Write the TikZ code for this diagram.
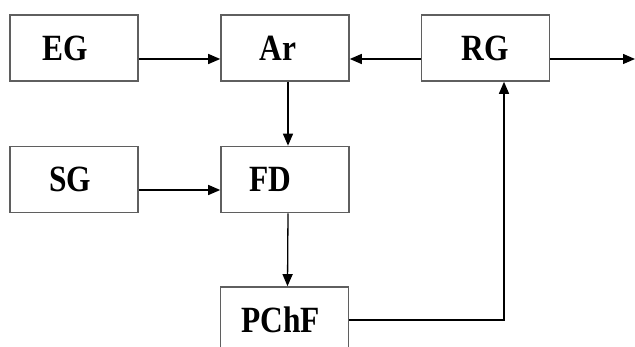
\documentclass[tikz,border=0pt]{standalone}
\usepackage{fontspec}
\setmainfont{Liberation Serif}
\newfontfamily\blkfont[FakeStretch=0.85]{Liberation Serif}
\usepackage{tikz}
\usetikzlibrary{arrows.meta,positioning,calc}
\definecolor{boxgray}{RGB}{95,95,95}

\begin{document}
\begin{tikzpicture}[x=1pt,y=-1pt,>={Triangle[length=12pt,width=10pt]},
  line width=1.3pt,
  every node/.style={font=\blkfont\fontsize{37}{40}\selectfont\bfseries},
  blk/.style={rectangle,draw=boxgray,line width=1.6pt,minimum width=128pt,minimum height=66pt,inner sep=0pt}]
\useasboundingbox (0,0) rectangle (635,347);
\node[blk] (eg) at (74,48) {EG\hspace*{18pt}};
\node[blk] (ar) at (285,48) {Ar\hspace*{14pt}};
\node[blk] (rg) at (485.5,48) {RG};
\node[blk] (sg) at (74,179.5) {SG\hspace*{8pt}};
\node[blk] (fd) at (285,179.5) {FD\hspace*{30pt}};
\node[blk] (pchf) at (284.5,320) {PChF\hspace*{8pt}};
\coordinate (out) at (635,59);
\draw[->] ([yshift=-11pt]eg.east) -- ([yshift=-11pt]ar.west);
\draw[->] ([yshift=-11pt]rg.west) -- ([yshift=-11pt]ar.east);
\draw[->] ([yshift=-11pt]rg.east) -- (out);
\draw[->] ([xshift=3pt]ar.south) -- ([xshift=3pt]fd.north);
\draw[->] ([yshift=-10.5pt]sg.east) -- ([yshift=-10.5pt]fd.west);
\draw[->] ([xshift=3pt]fd.south) -- ([xshift=3pt]pchf.north);
\draw[->] (pchf.east) -| ([xshift=18.5pt]rg.south);
\end{tikzpicture}
\end{document}
